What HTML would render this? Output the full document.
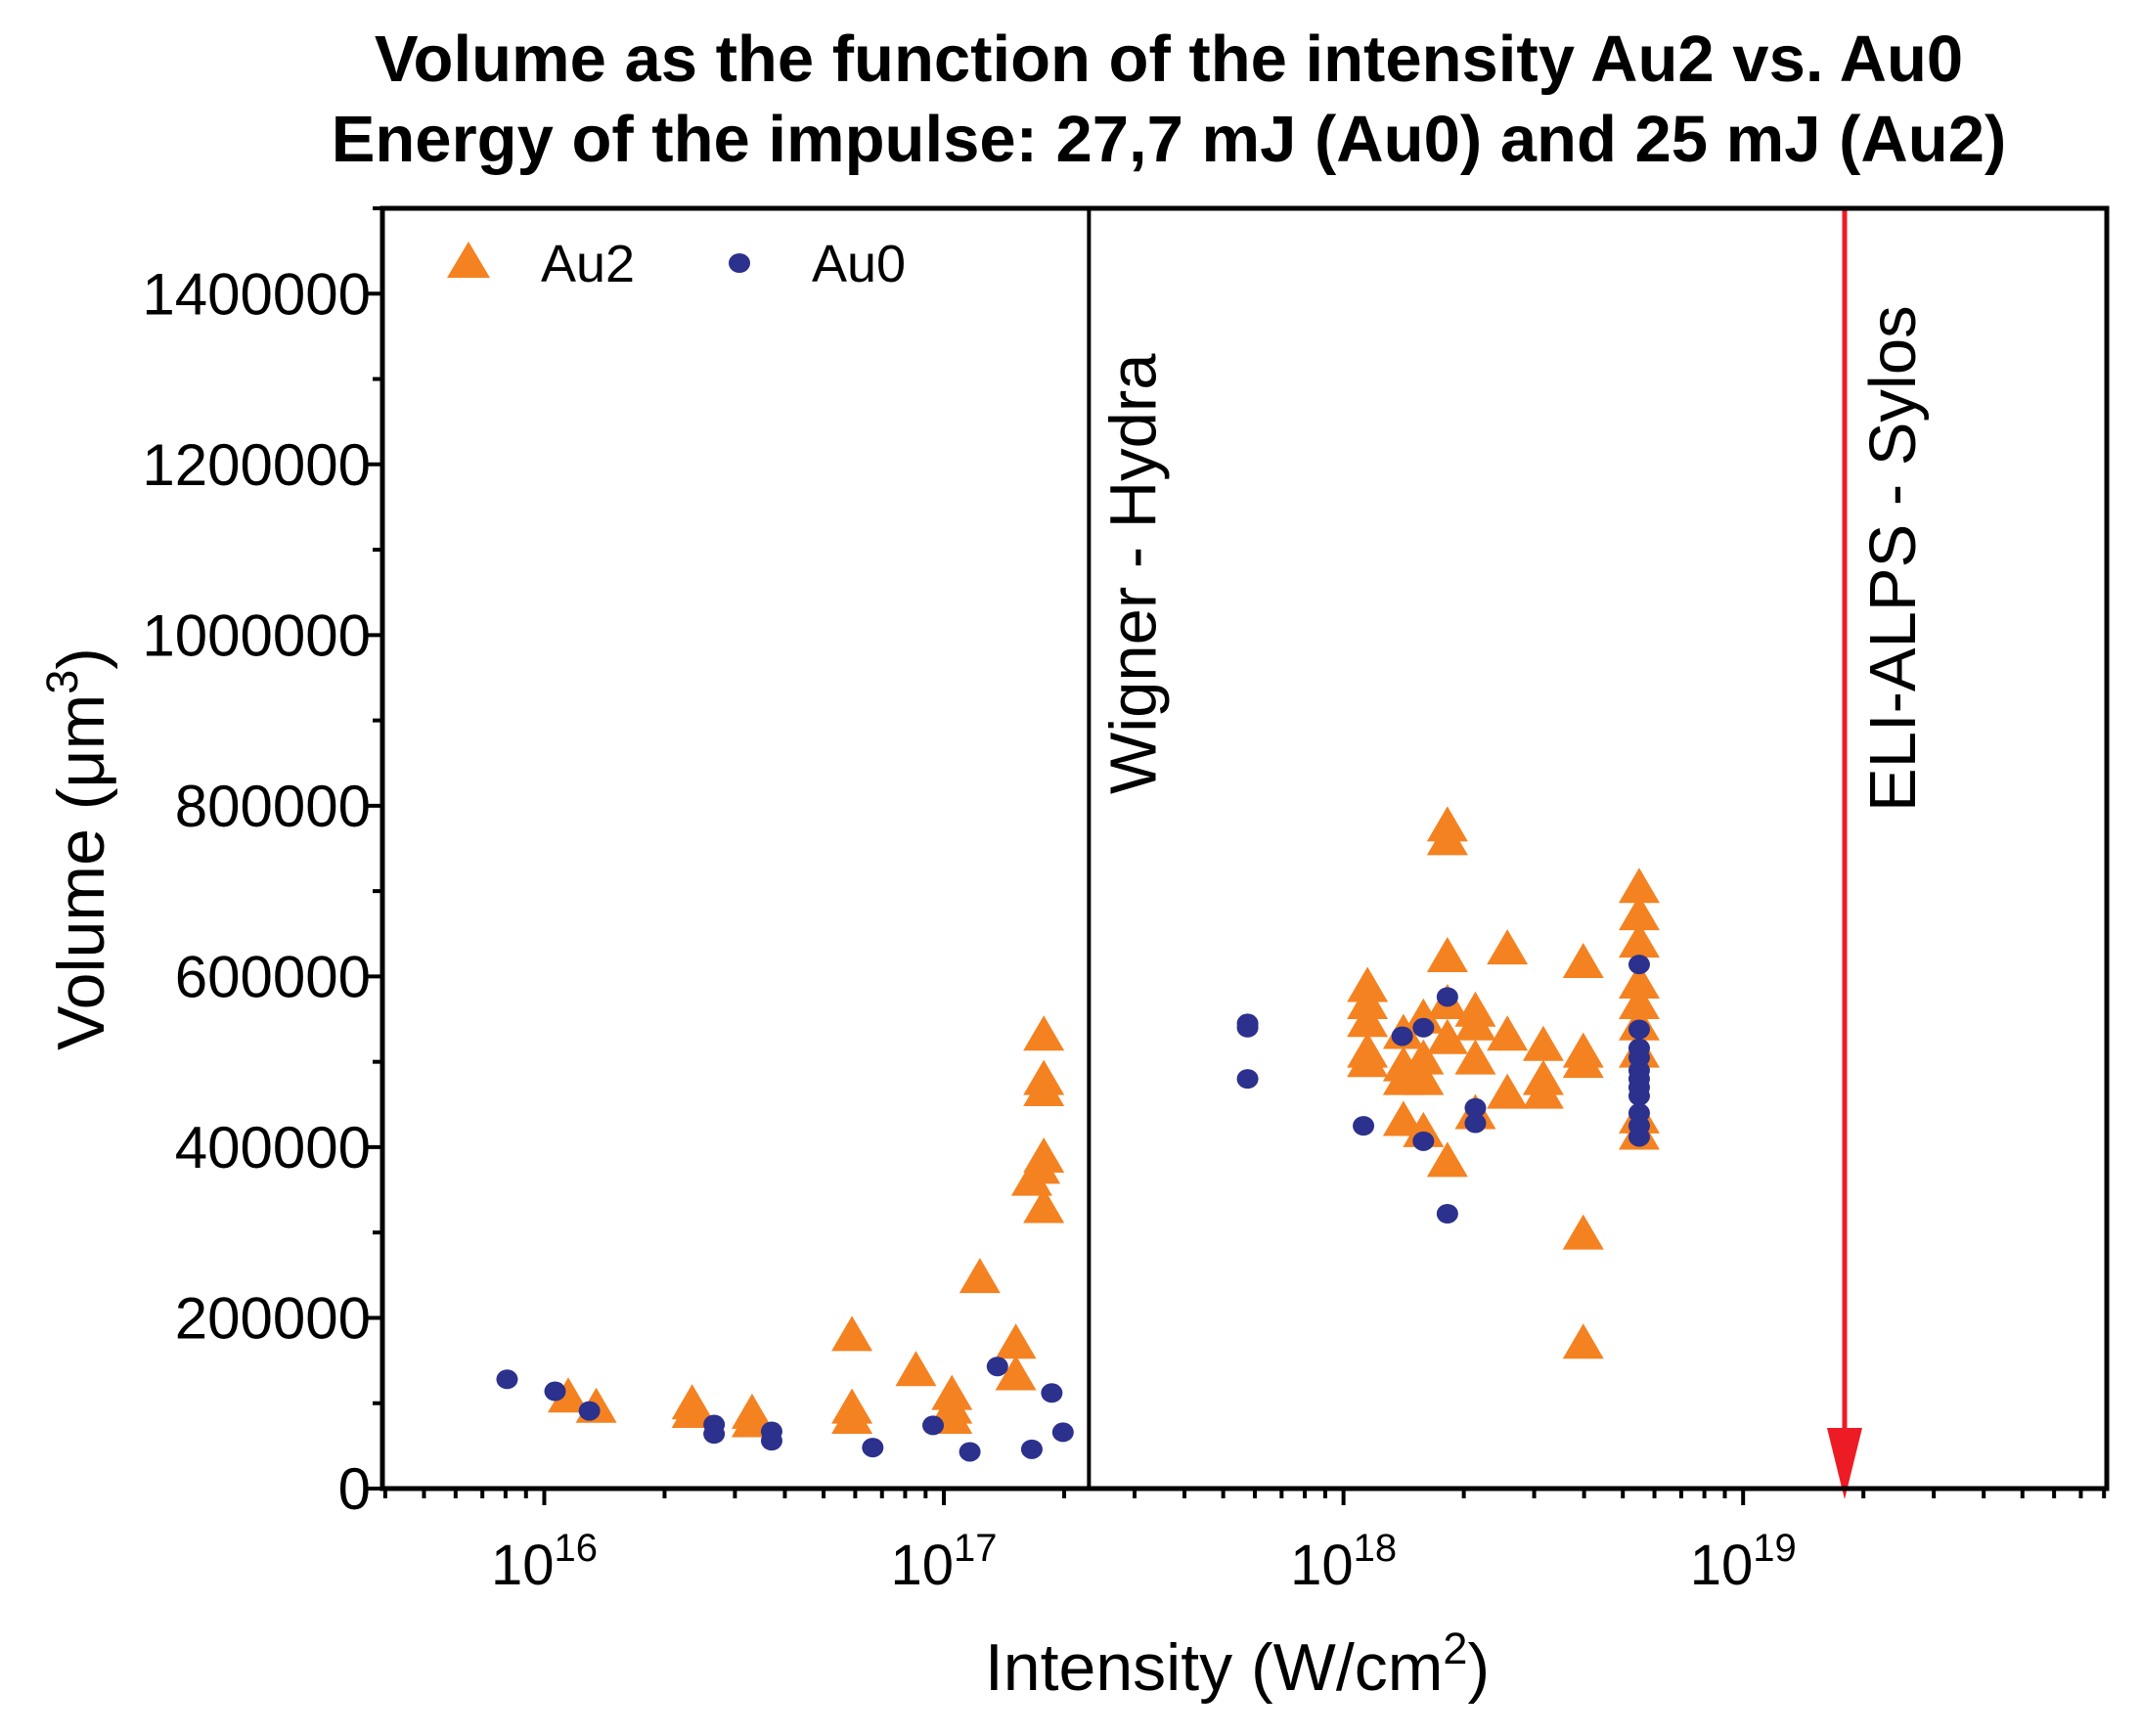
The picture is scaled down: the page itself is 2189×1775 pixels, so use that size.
<!DOCTYPE html>
<html><head><meta charset="utf-8"><style>
html,body{margin:0;padding:0;background:#fff;}
svg{display:block;font-family:"Liberation Sans",Arial,sans-serif;}
</style></head><body>
<svg id="chart" width="2189" height="1775" viewBox="0 0 2189 1775">
<text x="1195" y="83" text-anchor="middle" font-size="67" font-weight="bold">Volume as the function of the intensity Au2 vs. Au0</text>
<text x="1195" y="165" text-anchor="middle" font-size="67" font-weight="bold">Energy of the impulse: 27,7 mJ (Au0) and 25 mJ (Au2)</text>
<g id="ticks"></g>
<g id="marks"></g>
<rect x="391" y="213" width="1763" height="1309" fill="none" stroke="#000" stroke-width="5"/>
<text transform="translate(106,868) rotate(-90)" text-anchor="middle" font-size="68">Volume (μm<tspan dy="-27" font-size="45">3</tspan><tspan dy="27">)</tspan></text>
<text x="1265" y="1728" text-anchor="middle" font-size="68">Intensity (W/cm<tspan dy="-27" font-size="45">2</tspan><tspan dy="27">)</tspan></text>
<g>
<polygon points="479,247 457,284 501,284" fill="#f48221"/>
<text x="553" y="288" font-size="54">Au2</text>
<ellipse cx="756" cy="269" rx="11" ry="10" fill="#2b318c"/>
<text x="830" y="288" font-size="54">Au0</text>
</g>
</svg>
<script>
const yTicks=[0,200000,400000,600000,800000,1000000,1200000,1400000];
const xDecades=[16,17,18,19];
const wignerLog=17.363;
const eliLog=19.254;
const au0Log=[15.907,16.027,16.113,16.425,16.425,16.569,16.569,16.822,16.973,17.065,17.134,17.22,17.27,17.298,17.76,17.76,17.76,18.05,18.147,18.2,18.2,18.26,18.26,18.33,18.33,18.74,18.74,18.74,18.74,18.74,18.74,18.74,18.74,18.74,18.74,18.74];
const au0Vol=[128000,114000,91000,75000,64000,67000,56000,48000,74000,43000,143000,46000,112000,66000,545000,540000,480000,425000,530000,540000,407000,576000,322000,446000,428000,614000,538000,516000,505000,490000,480000,470000,460000,440000,425000,412000];
const au2Log=[16.06,16.13,16.37,16.37,16.52,16.52,16.77,16.77,16.77,16.93,17.02,17.02,17.02,17.09,17.18,17.18,17.22,17.24,17.25,17.25,17.25,17.25,17.25,
18.06,18.06,18.06,18.06,18.06,18.15,18.15,18.15,18.15,18.2,18.2,18.2,18.2,18.26,18.26,18.26,18.26,18.26,18.26,18.33,18.33,18.33,18.33,18.41,18.41,18.41,18.5,18.5,18.5,18.6,18.6,18.6,18.6,18.6,18.74,18.74,18.74,18.74,18.74,18.74,18.74,18.74,18.74];
const au2Vol=[104000,92000,96000,86000,85000,75000,176000,91000,79000,135000,107000,91000,79000,244000,167000,130000,358000,372000,528000,476000,463000,385000,326000,
585000,565000,544000,508000,497000,530000,492000,476000,428000,548000,500000,476000,415000,773000,757000,620000,565000,524000,380000,556000,540000,500000,436000,629000,528000,460000,516000,476000,460000,613000,508000,496000,295000,167000,701000,669000,637000,589000,565000,540000,508000,431000,412000];

const L=391,R=2154,T=213,B=1522,xMin=15.595,xMax=19.91,yMax=1500000;
const X=v=>L+(v-xMin)/(xMax-xMin)*(R-L);
const Y=v=>B-v/yMax*(B-T);
const NS='http://www.w3.org/2000/svg';
function mk(tag,attrs,parent){const e=document.createElementNS(NS,tag);for(const k in attrs)e.setAttribute(k,attrs[k]);parent.appendChild(e);return e;}
const tk=document.getElementById('ticks'),mg=document.getElementById('marks');
yTicks.forEach(v=>{
  const l=mk('line',{x1:L-17,x2:L,y1:Y(v),y2:Y(v),stroke:'#000','stroke-width':4},tk);
  
  
  const m=mk('line',{x1:L-10,x2:L,y1:Y(v+100000),y2:Y(v+100000),stroke:'#000','stroke-width':4},tk);
  
  
  const t=mk('text',{x:L-12,y:Y(v)+21,'text-anchor':'end','font-size':60},tk);
  t.textContent=String(v);
  
  
});
for(let d=15;d<=19;d++){for(let k=1;k<=9;k++){const lv=d+Math.log10(k);if(lv<xMin||lv>xMax)continue;
  const l=mk('line',{x1:X(lv),x2:X(lv),y1:B,y2:B+(k==1?17:10),stroke:'#000','stroke-width':4},tk);
  
  }}
xDecades.forEach(d=>{
  const t=mk('text',{x:X(d),y:1620,'text-anchor':'middle','font-size':58},tk);
  t.innerHTML='10<tspan dy="-24" font-size="40">'+d+'</tspan>';
  
  
});
const wl=mk('line',{x1:X(wignerLog),x2:X(wignerLog),y1:T,y2:B,stroke:'#000','stroke-width':4},mg);


const wt=mk('text',{transform:`translate(${X(wignerLog)+68},812) rotate(-90)`,'font-size':67},mg);
wt.textContent='Wigner - Hydra';


const ax=X(eliLog);
const el=mk('line',{x1:ax,x2:ax,y1:T,y2:1465,stroke:'#ed1c24','stroke-width':5},mg);


const eh=mk('polygon',{points:`${ax-18},1460 ${ax+18},1460 ${ax},1533`,fill:'#ed1c24'},mg);


const et=mk('text',{transform:`translate(${ax+72},830) rotate(-90)`,'font-size':67},mg);
et.textContent='ELI-ALPS - Sylos';


au2Log.forEach((lv,i)=>{const cx=X(lv),cy=Y(au2Vol[i]);
  const p=mk('polygon',{points:`${cx},${cy-23} ${cx-21},${cy+13} ${cx+21},${cy+13}`,fill:'#f48221'},mg);
  
  });
au0Log.forEach((lv,i)=>{
  const c=mk('ellipse',{cx:X(lv),cy:Y(au0Vol[i]),rx:11,ry:10,fill:'#2b318c'},mg);
  
  });
</script>
</body></html>
